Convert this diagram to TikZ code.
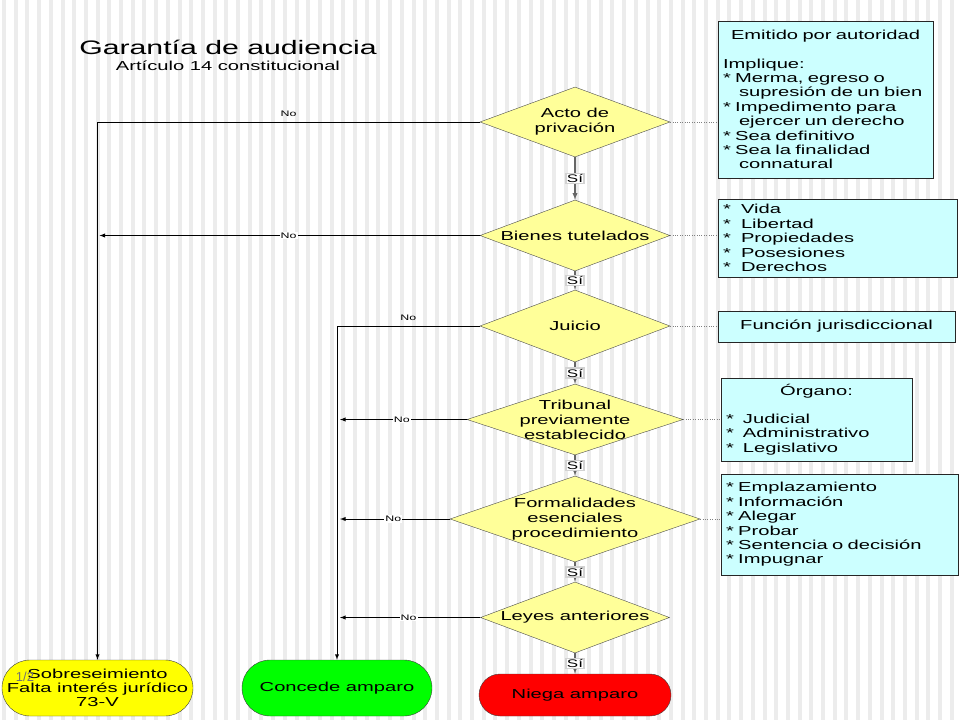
\documentclass[tikz,border=0pt]{standalone}
\usepackage{fontspec}
\setmainfont{Liberation Sans}[FakeStretch=1.55]
\newfontfamily\sinestirar{Liberation Sans}
\usepackage{tikz}
\usetikzlibrary{shapes.geometric}
\definecolor{rombofondo}{RGB}{255,255,153}
\definecolor{cajafondo}{RGB}{204,255,255}
\definecolor{sobrefondo}{RGB}{255,255,0}
\definecolor{concedefondo}{RGB}{0,255,0}
\definecolor{niegafondo}{RGB}{255,0,0}
\definecolor{raya}{RGB}{236,236,236}

\begin{document}
\begin{tikzpicture}[x=1pt, y=-1pt,
    rombo/.style={diamond, aspect=2.7, draw=black!70, fill=rombofondo, inner sep=-5pt, align=center,
      font=\fontsize{13}{15}\selectfont},
    caja/.style={rectangle, draw=black!85, fill=cajafondo, inner sep=5pt, align=left,
      font=\fontsize{13}{14.4}\selectfont},
    final/.style={rectangle, draw=black!75, inner sep=2pt, align=center,
      font=\fontsize{13}{14}\selectfont},
    si/.style={fill=white, draw=gray!35, inner sep=1pt, font=\fontsize{11}{11}\selectfont},
    no/.style={inner sep=1pt, font=\fontsize{8}{8}\selectfont},
    paso/.style={draw=gray!80!black, line width=1.3pt, -latex},
    flecha/.style={draw=black, line width=0.9pt, -latex},
    punteado/.style={draw=gray, dotted}]
  \useasboundingbox (0, 0) rectangle (960, 720);
  % fondo rayado
  \foreach \x in {2,13.7,...,960}
    \fill[raya] (\x, 0) rectangle ++(4, 720);

  % titulo
  \node[font=\fontsize{19.5}{20}\selectfont, anchor=base] (titulo) at (228, 54) {Garantía de audiencia};
  \node[font=\fontsize{13}{14}\selectfont, anchor=base] (subtitulo) at (228, 70) {Artículo 14 constitucional};

  % rombos
  \node[rombo, minimum width=190pt, minimum height=70pt] (acto) at (575, 122) {Acto de\\privación};
  \node[rombo, minimum width=190pt, minimum height=71pt] (bienes) at (575, 235.5) {Bienes tutelados};
  \node[rombo, minimum width=190pt, minimum height=72pt] (juicio) at (575, 326) {Juicio};
  \node[rombo, minimum width=216pt, minimum height=71pt] (tribunal) at (575, 419.5) {Tribunal\\previamente\\establecido};
  \node[rombo, minimum width=250pt, minimum height=86pt] (formal) at (575, 519) {Formalidades\\esenciales\\procedimiento};
  \node[rombo, minimum width=189pt, minimum height=71pt] (leyes) at (575, 617.5) {Leyes anteriores};

  % resultados
  \node[final, fill=sobrefondo, minimum width=191pt, minimum height=56pt, rounded corners=28pt] (sobre) at (97.5, 688) {Sobreseimiento\\Falta interés jurídico\\73-V};
  \node[final, fill=concedefondo, minimum width=190pt, minimum height=56pt, rounded corners=28pt] (concede) at (337, 688) {Concede amparo};
  \node[final, fill=niegafondo, minimum width=192pt, minimum height=42pt, rounded corners=21pt] (niega) at (575, 695) {Niega amparo};
  \node[font=\sinestirar\fontsize{13}{13}\selectfont, text=black!55] (pagina) at (25, 677) {1/2};

  % cajas de notas
  \node[caja, minimum height=157pt, text width=205pt] (emitido) at (825.5, 99.5) {\hspace*{\fill}Emitido por autoridad\hspace*{\fill}\mbox{}\\[14.4pt]
    Implique:\\
    {*} Merma, egreso o\\
    \hspace*{16pt}supresión de un bien\\
    {*} Impedimento para\\
    \hspace*{16pt}ejercer un derecho\\
    {*} Sea definitivo\\
    {*} Sea la finalidad\\
    \hspace*{16pt}connatural};
  \node[caja, minimum height=78pt, text width=229pt] (tutela) at (837.5, 238) {\makebox[18pt][l]{*}Vida\\
    \makebox[18pt][l]{*}Libertad\\
    \makebox[18pt][l]{*}Propiedades\\
    \makebox[18pt][l]{*}Posesiones\\
    \makebox[18pt][l]{*}Derechos};
  \node[caja, align=center, minimum width=237pt, minimum height=31pt] (funcion) at (836.5, 326.5) {Función jurisdiccional};
  \node[caja, minimum height=83pt, text width=181pt] (organo) at (816.5, 419.5) {\hspace*{\fill}Órgano:\hspace*{\fill}\mbox{}\\[14pt]
    \makebox[17pt][l]{*}Judicial\\
    \makebox[17pt][l]{*}Administrativo\\
    \makebox[17pt][l]{*}Legislativo};
  \node[caja, minimum height=101pt, text width=227pt] (formas) at (839.5, 524.5) {{*} Emplazamiento\\
    {*} Información\\
    {*} Alegar\\
    {*} Probar\\
    {*} Sentencia o decisión\\
    {*} Impugnar};

  % camino del si
  \draw[paso] (acto) to node[si] {Sí} (bienes);
  \draw[paso] (bienes) to node[si] {Sí} (juicio);
  \draw[paso] (juicio) to node[si] {Sí} (tribunal);
  \draw[paso] (tribunal) to node[si] {Sí} (formal);
  \draw[paso] (formal) to node[si] {Sí} (leyes);
  \draw[paso] (leyes) to node[si] {Sí} (niega);

  % camino del no
  \draw[flecha] (acto.west) -- node[no, above=4pt] {No} (acto.west -| sobre.north) -- (sobre.north);
  \draw[flecha, shorten >=2pt] (bienes.west) -- node[no, fill=white] {No} (bienes.west -| sobre.north);
  \draw[flecha] (juicio.west) -- node[no, above=4pt] {No} (juicio.west -| concede.north) -- (concede.north);
  \draw[flecha, shorten >=3pt] (tribunal.west) -- node[no, fill=white] {No} (tribunal.west -| concede.north);
  \draw[flecha, shorten >=3pt] (formal.west) -- node[no, fill=white] {No} (formal.west -| concede.north);
  \draw[flecha, shorten >=3pt] (leyes.west) -- node[no, fill=white] {No} (leyes.west -| concede.north);

  % notas
  \draw[punteado] (acto.east) -- (acto.east -| emitido.west);
  \draw[punteado] (bienes.east) -- (bienes.east -| tutela.west);
  \draw[punteado] (juicio.east) -- (juicio.east -| funcion.west);
  \draw[punteado] (tribunal.east) -- (tribunal.east -| organo.west);
  \draw[punteado] (formal.east) -- (formal.east -| formas.west);
\end{tikzpicture}
\end{document}
